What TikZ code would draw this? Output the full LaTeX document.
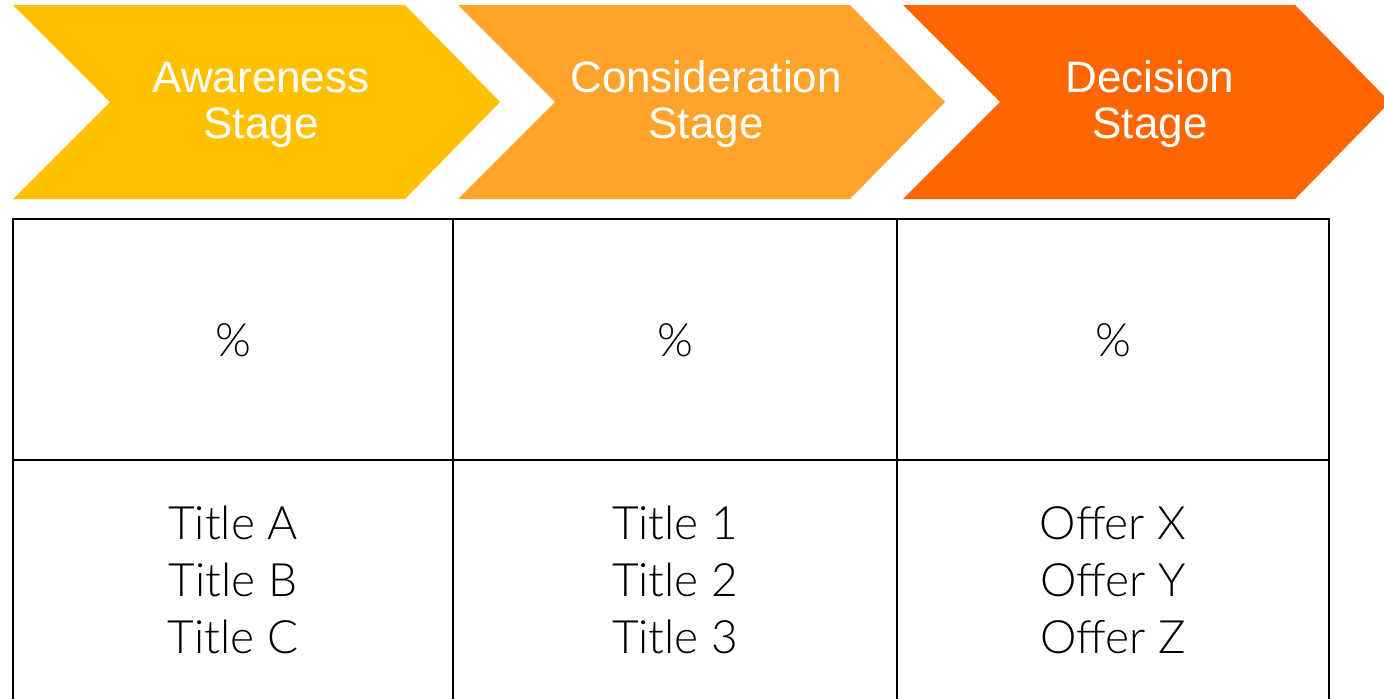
\documentclass[tikz,border=0pt]{standalone}
\usepackage{fontspec}
\setmainfont{Liberation Sans}
\newfontfamily\lightfont{Lato Light}
\usetikzlibrary{graphs}

\definecolor{awareness}{HTML}{FFC000}
\definecolor{consideration}{HTML}{FFA32B}
\definecolor{decision}{HTML}{FF6600}

\tikzset{
  stage/.style={text=white,font=\fontsize{22}{23}\selectfont},
  cell/.style={font=\lightfont\fontsize{23}{28.5}\selectfont},
}

\begin{document}
\begin{tikzpicture}[x=0.5pt,y=-0.5pt,line width=1.4pt,align=center,text depth=0pt]
\useasboundingbox (0,0) rectangle (1384,698);

\foreach \i/\c in {0/awareness,1/consideration,2/decision}
  \fill[\c,shift={(445*\i,0)}] (13,5) -- (405,5) -- (500,102) -- (405,199) -- (13,199) -- (110,102) -- cycle;

\draw (13,219) rectangle (1329,700);
\draw (13,460) -- (1329,460) (453,219) -- (453,700) (897,219) -- (897,700);

\graph [no placement]
{
       AwarenessStage[x= 261,y=100,stage,as={Awareness \\ Stage}],
   ConsiderationStage[x= 706,y=100,stage,as={Consideration \\ Stage}],
        DecisionStage[x=1150,y=100,stage,as={Decision \\ Stage}],

  Paw[x= 233,y=340,cell,as=\%],
  Pco[x= 675,y=340,cell,as=\%],
  Pde[x=1113,y=340,cell,as=\%],

  Law[x= 233,y=580,cell,as={Title A \\ Title B \\ Title C}],
  Lco[x= 675,y=580,cell,as={Title 1 \\ Title 2 \\ Title 3}],
  Lde[x=1113,y=580,cell,as={Offer X \\ Offer Y \\ Offer Z}]
};
\end{tikzpicture}
\end{document}
